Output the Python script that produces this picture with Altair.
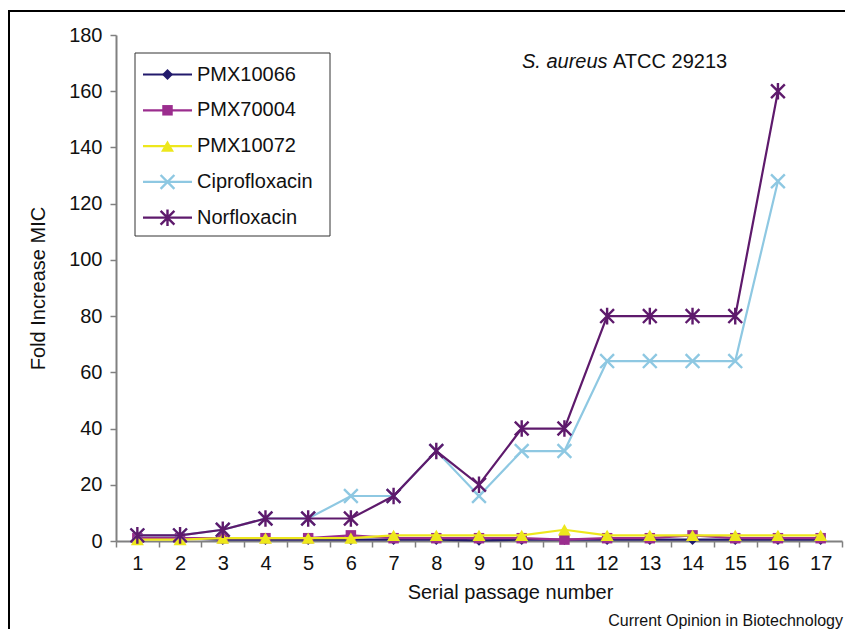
import altair as alt
import pandas as pd

# ---- data ----
passages = list(range(1, 18))
series_names = ["PMX10066", "PMX70004", "PMX10072", "Ciprofloxacin", "Norfloxacin"]
pmx10066 = [1, 1, 0.5, 0.5, 0.5, 0.5, 0.5, 0.5, 0.25, 0.5, 0.5, 0.5, 0.5, 0.5, 0.5, 0.5, 0.5]
pmx70004 = [1, 1, 1, 1, 1, 2, 1, 1, 1, 1, 0.5, 1, 1, 2, 1, 1, 1]
pmx10072 = [0.5, 0.5, 1, 1, 1, 1, 2, 2, 2, 2, 4, 2, 2, 2, 2, 2, 2]
ciprofloxacin = [2, 2, 4, 8, 8, 16, 16, 32, 16, 32, 32, 64, 64, 64, 64, 128, None]
norfloxacin = [2, 2, 4, 8, 8, 8, 16, 32, 20, 40, 40, 80, 80, 80, 80, 160, None]
y_ticks = [0, 20, 40, 60, 80, 100, 120, 140, 160, 180]

values = [pmx10066, pmx70004, pmx10072, ciprofloxacin, norfloxacin]
rows = []
for name, vals in zip(series_names, values):
    for p, v in zip(passages, vals):
        if v is not None:
            rows.append({"passage": p, "series": name, "value": v})
df = pd.DataFrame(rows)

# ---- styles ----
FONT = "Liberation Sans"
colors = ["#221a6c", "#9b2d8e", "#ede71c", "#8ec8e2", "#5e1a6c"]
X_PATH = "M-1,-1L1,1M-1,1L1,-1"
STAR_PATH = "M-1,-1L1,1M-1,1L1,-1M0,-1.2L0,1.2"
shapes = ["diamond", "square", "triangle-up", X_PATH, STAR_PATH]
filled = [True, True, True, False, False]
sizes = [120, 110, 170, 190, 190]

W, H = 726, 506

X = alt.X(
    "passage:O",
    scale=alt.Scale(type="band", paddingInner=0, paddingOuter=0),
    axis=alt.Axis(
        title="Serial passage number",
        labelAngle=0,
        tickBand="extent",
        tickSize=6,
        labelPadding=6,
        labelFontSize=20,
        titleFontSize=20,
        titleFontWeight="normal",
        titleX=394,
        titleY=51,
        titleAlign="center",
        titleBaseline="middle",
    ),
)
Y = alt.Y(
    "value:Q",
    scale=alt.Scale(domain=[0, 180], nice=False, zero=True),
    axis=alt.Axis(
        title="Fold Increase MIC",
        values=y_ticks,
        tickSize=6,
        labelPadding=8,
        labelFontSize=20,
        titleFontSize=20,
        titleFontWeight="normal",
        titleX=-78,
        titleY=H / 2,
        titleAngle=270,
        titleAlign="center",
        titleBaseline="middle",
        grid=False,
    ),
)

layers = []
for i, name in enumerate(series_names):
    base = alt.Chart(df).transform_filter(alt.datum.series == name)
    layers.append(base.mark_line(color=colors[i], strokeWidth=2.2).encode(x=X, y=Y))
    layers.append(
        base.mark_point(
            shape=shapes[i],
            filled=filled[i],
            color=colors[i],
            size=sizes[i],
            strokeWidth=2.4 if not filled[i] else 1,
            opacity=1,
        ).encode(x=X, y=Y)
    )

one = pd.DataFrame({"k": [0]})

# legend box
layers.append(
    alt.Chart(one).mark_rect(fillOpacity=0, stroke="#333333", strokeWidth=1).encode(
        x=alt.value(19), x2=alt.value(214), y=alt.value(18), y2=alt.value(201)
    )
)
for i, name in enumerate(series_names):
    ly = 39.5 + 35.8 * i
    layers.append(
        alt.Chart(one).mark_rule(color=colors[i], strokeWidth=2.2).encode(
            x=alt.value(27), x2=alt.value(76), y=alt.value(ly)
        )
    )
    layers.append(
        alt.Chart(one).mark_point(
            shape=shapes[i], filled=filled[i], color=colors[i], size=sizes[i],
            strokeWidth=2.4 if not filled[i] else 1, opacity=1,
        ).encode(x=alt.value(51.5), y=alt.value(ly))
    )
    layers.append(
        alt.Chart(one).mark_text(
            text=name, align="left", baseline="middle", fontSize=20, font=FONT, color="#111111"
        ).encode(x=alt.value(81), y=alt.value(ly))
    )

# in-plot title
layers.append(
    alt.Chart(one).mark_text(
        text="S. aureus", align="left", baseline="middle", fontSize=20,
        fontStyle="italic", font=FONT, color="#111111",
    ).encode(x=alt.value(406), y=alt.value(27))
)
layers.append(
    alt.Chart(one).mark_text(
        text="ATCC 29213", align="left", baseline="middle", fontSize=20, font=FONT, color="#111111"
    ).encode(x=alt.value(497), y=alt.value(27))
)

# footer
layers.append(
    alt.Chart(one).mark_text(
        text="Current Opinion in Biotechnology", align="right", baseline="alphabetic",
        fontSize=16, font=FONT, color="#111111",
    ).encode(x=alt.value(727), y=alt.value(591))
)

# outer frame
layers.append(
    alt.Chart(one).mark_rect(fillOpacity=0, stroke="#000000", strokeWidth=2).encode(
        x=alt.value(-107), x2=alt.value(800), y=alt.value(-24), y2=alt.value(700)
    )
)

chart = (
    alt.layer(*layers)
    .properties(
        width=W,
        height=H,
        autosize=alt.AutoSizeParams(type="none"),
        padding={"left": 108, "top": 27, "right": 3, "bottom": 88},
        background="white",
    )
    .configure_view(stroke=None)
    .configure_axis(
        domainColor="#808080",
        domainWidth=2,
        tickColor="#808080",
        tickWidth=1.5,
        labelColor="#111111",
        titleColor="#111111",
        labelFont=FONT,
        titleFont=FONT,
    )
)

chart.save("out.html", embed_options={"renderer": "svg", "actions": False})
